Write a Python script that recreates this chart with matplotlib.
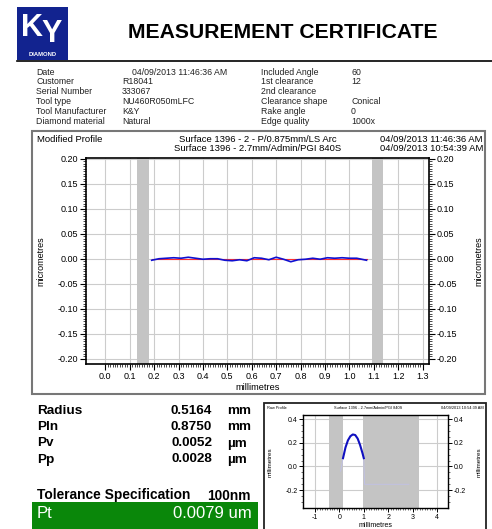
import matplotlib
matplotlib.use("Agg")
import matplotlib.pyplot as plt
from matplotlib.patches import Rectangle
from matplotlib.ticker import FixedLocator

plt.rcParams['font.family'] = ['Liberation Sans', 'DejaVu Sans']

W, H = 492, 529

info_left_labels = ["Date", "Customer", "Serial Number", "Tool type", "Tool Manufacturer", "Diamond material"]
info_left_values = ["04/09/2013 11:46:36 AM", "R18041", "333067", "NU460R050mLFC", "K&Y", "Natural"]
info_right_labels = ["Included Angle", "1st clearance", "2nd clearance", "Clearance shape", "Rake angle", "Edge quality"]
info_right_values = ["60", "12", "", "Conical", "0", "1000x"]

# modified profile (mm, micrometres)
profile_x = [0.19, 0.22, 0.25, 0.28, 0.31, 0.34, 0.37, 0.40, 0.43, 0.46, 0.49, 0.52, 0.55, 0.58,
             0.61, 0.64, 0.67, 0.70, 0.73, 0.76, 0.79, 0.82, 0.85, 0.88, 0.91, 0.94, 0.97, 1.00,
             1.03, 1.06, 1.07]
profile_y = [-0.003, 0.000, 0.001, 0.002, 0.001, 0.003, 0.001, -0.001, 0.000, 0.000, -0.003, -0.004,
             -0.002, -0.004, 0.002, 0.001, -0.002, 0.003, -0.001, -0.006, -0.002, -0.001, 0.001,
             -0.001, 0.002, 0.001, 0.002, 0.001, 0.001, -0.002, -0.003]
fit_x = [0.19, 1.07]
fit_y = [0.0, 0.0]
excluded_bands = [(0.131, 0.178), (1.094, 1.139)]

# raw profile inset (mm, mm)
raw_arc_x = [0.15, 0.25, 0.35, 0.45, 0.55, 0.65, 0.75, 0.85, 0.95, 1.00]
raw_arc_y = [0.07, 0.16, 0.22, 0.255, 0.27, 0.265, 0.235, 0.18, 0.11, 0.07]
raw_lead_x = [0.05, 0.15]
raw_lead_y = [-0.04, 0.07]
raw_tail_x = [1.00, 1.03, 2.85]
raw_tail_y = [0.07, -0.15, -0.15]
raw_bands = [(-0.43, 0.13), (0.97, 3.27)]

result_names = ["Radius", "Pln", "Pv", "Pp"]
result_values = ["0.5164", "0.8750", "0.0052", "0.0028"]
result_units = ["mm", "mm", "µm", "µm"]
tolerance = "100nm"
pt_value = "0.0079 um"


def fx(x):
    return x / W


def fy(y):
    return 1 - y / H


def box(x0, y0, x1, y1, **kw):
    # rectangle given in pixel coords (top-left origin)
    r = Rectangle((fx(x0), fy(y1)), (x1 - x0) / W, (y1 - y0) / H, transform=fig.transFigure, **kw)
    fig.patches.append(r)
    return r


fig = plt.figure(figsize=(W / 100, H / 100), dpi=100)

# ---- header ----
box(17, 7, 68, 60, facecolor='#12238f', edgecolor='none')
fig.text(fx(32), fy(28), "K", color='white', fontsize=22, fontweight='bold', ha='center', va='center')
fig.text(fx(52), fy(34), "Y", color='white', fontsize=22, fontweight='bold', ha='center', va='center')
fig.text(fx(42.5), fy(55), "DIAMOND", color='white', fontsize=4.2, fontweight='bold', ha='center', va='center')
fig.text(fx(283), fy(33), "MEASUREMENT CERTIFICATE", fontsize=15.2, fontweight='bold', ha='center', va='center')
fig.add_artist(plt.Line2D([fx(17), fx(492)], [fy(61), fy(61)], color='black', lw=1.2))

for i in range(len(info_left_labels)):
    y = 74.6 + i * 9.8  # baseline of each row
    xv = 132 if i == 0 else 122  # date value is indented in the original
    fig.text(fx(36.5), fy(y), info_left_labels[i], fontsize=6.3, va='baseline', color='#222222')
    fig.text(fx(xv), fy(y), info_left_values[i], fontsize=6.3, va='baseline', color='#222222')
    fig.text(fx(261), fy(y), info_right_labels[i], fontsize=6.3, va='baseline', color='#222222')
    fig.text(fx(351), fy(y), info_right_values[i], fontsize=6.3, va='baseline', color='#222222')

# ---- main profile panel ----
box(32, 131, 485, 394, facecolor='none', edgecolor='#777777', lw=1.5)
fig.text(fx(37), fy(141.5), "Modified Profile", fontsize=6.8, va='baseline')
fig.text(fx(258), fy(141.5), "Surface 1396 - 2 - P/0.875mm/LS Arc", fontsize=6.8, ha='center', va='baseline')
fig.text(fx(258), fy(151), "Surface 1396 - 2.7mm/Admin/PGI 840S", fontsize=6.8, ha='center', va='baseline')
fig.text(fx(483), fy(141.5), "04/09/2013 11:46:36 AM", fontsize=6.8, ha='right', va='baseline')
fig.text(fx(483), fy(151), "04/09/2013 10:54:39 AM", fontsize=6.8, ha='right', va='baseline')

ax = fig.add_axes([fx(86), fy(364), (429 - 86) / W, (364 - 158) / H])
for a, b in excluded_bands:
    ax.axvspan(a, b, color='#c4c4c4', lw=0, zorder=1)
ax.plot(fit_x, fit_y, color='#ff3030', lw=0.8, zorder=3)
ax.plot(profile_x, profile_y, color='#1010d0', lw=1.2, zorder=4)
ax.set_xlim(-0.079, 1.326)
ax.set_ylim(-0.21, 0.201)
# minor ticks only across the labelled range, as on the instrument printout
ax.xaxis.set_minor_locator(FixedLocator([i / 100 for i in range(131)]))
ax.yaxis.set_minor_locator(FixedLocator([i / 1000 for i in range(-200, 201, 5)]))
ax.set_xticks([i / 10 for i in range(14)])
ax.set_xticklabels(["%.1f" % (i / 10) for i in range(14)])
yt = [-0.2, -0.15, -0.1, -0.05, 0, 0.05, 0.1, 0.15, 0.2]
ax.set_yticks(yt)
ax.set_yticklabels(["%.2f" % v for v in yt])
ax.grid(True, which='major', color='#cccccc', lw=0.8, zorder=0)
ax.set_axisbelow(True)
ax.tick_params(which='both', direction='out', labelsize=6.5, top=False, right=True, labelright=True, pad=1.5)
ax.tick_params(which='major', length=4, width=0.8)
ax.tick_params(which='minor', length=2, width=0.5)
for s in ax.spines.values():
    s.set_linewidth(1.2)
ax.set_xlabel("millimetres", fontsize=6.7, labelpad=2)
fig.text(fx(41), fy(261), "micrometres", fontsize=6.5, rotation=90, ha='center', va='center')
fig.text(fx(479), fy(261), "micrometres", fontsize=6.5, rotation=90, ha='center', va='center')

# ---- results table ----
for i in range(len(result_names)):
    y = 414.5 + i * 16
    fig.text(fx(37), fy(y), result_names[i], fontsize=9.7, fontweight='bold', va='baseline')
    fig.text(fx(212), fy(y), result_values[i], fontsize=9.7, fontweight='bold', ha='right', va='baseline')
    fig.text(fx(227), fy(y), result_units[i], fontsize=9.7, fontweight='bold', va='baseline')
fig.text(fx(37), fy(499.5), "Tolerance Specification", fontsize=9.9, fontweight='bold', va='baseline')
fig.text(fx(251), fy(499.5), tolerance, fontsize=9.9, fontweight='bold', ha='right', va='baseline')
box(32, 502, 258, 530, facecolor='#0a870a', edgecolor='none')
fig.text(fx(37), fy(518.5), "Pt", fontsize=12, color='white', va='baseline')
fig.text(fx(252), fy(518.5), pt_value, fontsize=12, color='white', ha='right', va='baseline')

# ---- raw profile inset ----
box(264, 403, 486, 531, facecolor='none', edgecolor='#222222', lw=1.3)
fig.text(fx(267), fy(408), "Raw Profile", fontsize=2.8, va='center')
fig.text(fx(368), fy(408), "Surface 1396 - 2.7mm/Admin/PGI 840S", fontsize=2.8, ha='center', va='center')
fig.text(fx(484), fy(408), "04/09/2013 10:54:39 AM", fontsize=2.8, ha='right', va='center')

ax2 = fig.add_axes([fx(303), fy(508), (448 - 303) / W, (508 - 415) / H])
for a, b in raw_bands:
    ax2.axvspan(a, b, color='#c4c4c4', lw=0, zorder=1)
ax2.plot(raw_lead_x, raw_lead_y, color='#c0c0e8', lw=0.6, zorder=2)
ax2.plot(raw_tail_x, raw_tail_y, color='#c0c0e8', lw=0.6, zorder=2)
ax2.plot(raw_arc_x, raw_arc_y, color='#1010c0', lw=1.5, zorder=3)
ax2.set_xlim(-1.49, 4.45)
ax2.set_ylim(-0.35, 0.434)
ax2.set_xticks([-1, 0, 1, 2, 3, 4])
ax2.set_xticklabels(["-1", "0", "1", "2", "3", "4"])
ax2.set_yticks([-0.2, 0.0, 0.2, 0.4])
ax2.set_yticklabels(["-0.2", "0.0", "0.2", "0.4"])
ax2.xaxis.set_minor_locator(FixedLocator([i / 10 for i in range(-10, 41)]))
ax2.yaxis.set_minor_locator(FixedLocator([i / 100 for i in range(-30, 41, 5)]))
ax2.grid(True, which='major', color='#cccccc', lw=0.8, zorder=0)
ax2.set_axisbelow(True)
ax2.tick_params(which='both', direction='out', labelsize=5, top=False, right=True, labelright=True, pad=1)
ax2.tick_params(which='major', length=3, width=0.7)
ax2.tick_params(which='minor', length=1.5, width=0.4)
for s in ax2.spines.values():
    s.set_linewidth(1.0)
ax2.set_xlabel("millimetres", fontsize=5, labelpad=1)
fig.text(fx(270), fy(462), "millimetres", fontsize=4.5, rotation=90, ha='center', va='center')
fig.text(fx(479), fy(462), "millimetres", fontsize=4.5, rotation=90, ha='center', va='center')

fig.savefig("out.png", dpi=100)
